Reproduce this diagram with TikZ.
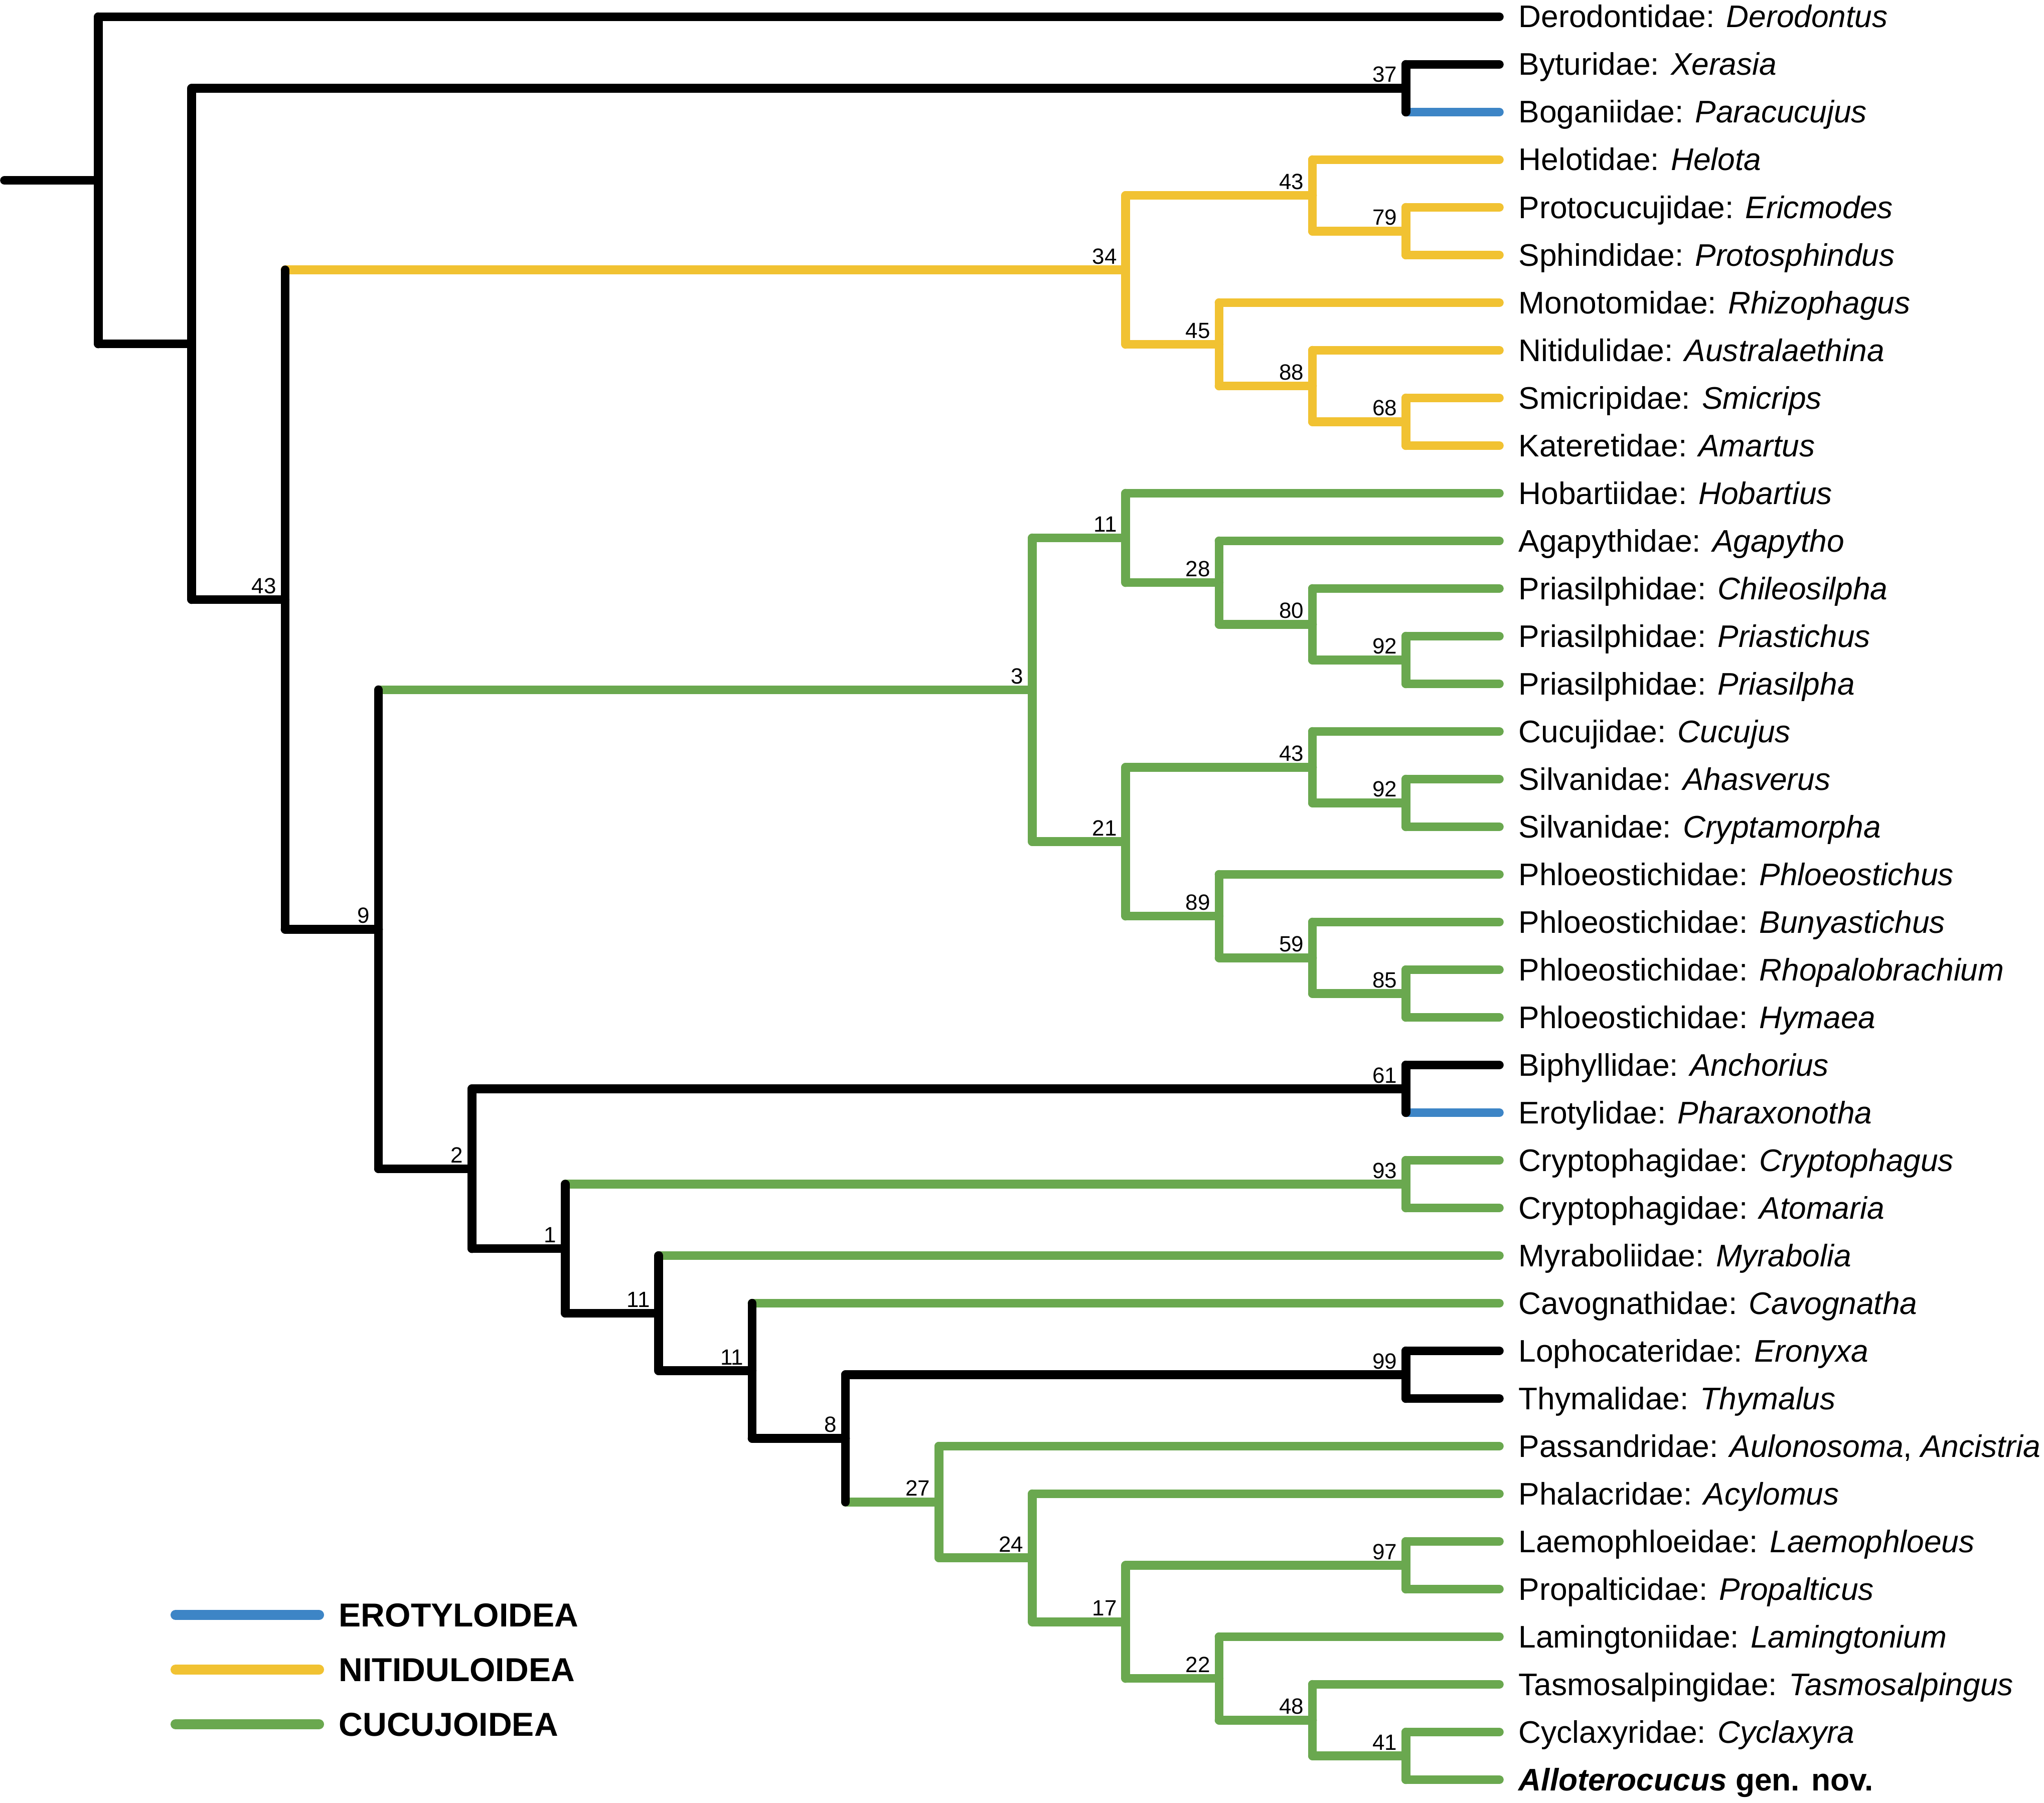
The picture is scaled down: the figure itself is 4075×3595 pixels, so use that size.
\documentclass[tikz,border=0pt]{standalone}
\usepackage{fontspec}
\setmainfont{Liberation Sans}
\definecolor{cyel}{RGB}{241,194,50}
\definecolor{cgrn}{RGB}{106,168,79}
\definecolor{cblu}{RGB}{61,133,198}
\begin{document}
\begin{tikzpicture}[x=0.01cm,y=-0.01cm,
  br/.style={line width=0.175cm, line cap=round},
  blk/.style={br, draw=black},
  yel/.style={br, draw=cyel},
  grn/.style={br, draw=cgrn},
  blu/.style={br, draw=cblu},
  leaflab/.style={anchor=base west, inner sep=0pt, font=\fontsize{17.7pt}{21pt}\selectfont},
  bsv/.style={anchor=base east, inner sep=0pt, font=\fontsize{12.5pt}{15pt}\selectfont},
  leglab/.style={anchor=base west, inner sep=0pt, font=\fontsize{18.8pt}{22pt}\selectfont\bfseries},
  legline/.style={line width=0.2cm, line cap=round},
]
\useasboundingbox (0,0) rectangle (4075,3595);
% leaves
\foreach \i in {0,...,37} {\coordinate (L\i) at (2989,{33.5+95*\i});}
% internal nodes
\coordinate (root) at (9,359.6);
\coordinate (nA) at (196,359.6);
\coordinate (nB) at (382.2,685.75);
\coordinate (n37) at (2802.8,176);
\coordinate (nC) at (568.4,1195.5);
\coordinate (n34) at (2244.2,538.19);
\coordinate (n43y) at (2616.6,389.75);
\coordinate (n79) at (2802.8,461);
\coordinate (n45) at (2430.4,686.625);
\coordinate (n88) at (2616.6,769.75);
\coordinate (n68) at (2802.8,841);
\coordinate (nD) at (754.6,1852.8);
\coordinate (n3) at (2058,1375.375);
\coordinate (n11a) at (2244.2,1072.5625);
\coordinate (n28) at (2430.4,1161.625);
\coordinate (n80) at (2616.6,1244.75);
\coordinate (n92a) at (2802.8,1316);
\coordinate (n21) at (2244.2,1678.1875);
\coordinate (n43g) at (2616.6,1529.75);
\coordinate (n92b) at (2802.8,1601);
\coordinate (n89) at (2430.4,1826.625);
\coordinate (n59) at (2616.6,1909.75);
\coordinate (n85) at (2802.8,1981);
\coordinate (nF) at (940.8,2330.3);
\coordinate (n61) at (2802.8,2171);
\coordinate (nG) at (1127,2489.7);
\coordinate (n93) at (2802.8,2361);
\coordinate (nH) at (1313.2,2618.35);
\coordinate (nI) at (1499.4,2733.2);
\coordinate (nJ) at (1685.6,2867.9);
\coordinate (n99) at (2802.8,2741);
\coordinate (nK) at (1871.8,2994.83);
\coordinate (nL) at (2058,3106.156);
\coordinate (nM) at (2244.2,3233.8125);
\coordinate (n97) at (2802.8,3121);
\coordinate (nN) at (2430.4,3346.625);
\coordinate (nO) at (2616.6,3429.75);
\coordinate (n41) at (2802.8,3501);

% ---------- horizontal branches ----------
\draw[blk] (root) -- (nA);
\draw[blk] (nA |- L0) -- (L0);
\draw[blk] (nA |- nB) -- (nB);
\draw[blk] (nB |- n37) -- (n37);
\draw[blk] (n37 |- L1) -- (L1);
\draw[blu] (n37 |- L2) -- (L2);
\draw[blk] (nB |- nC) -- (nC);
% Nitiduloidea
\draw[yel] (nC |- n34) -- (n34);
\draw[yel] (n34 |- n43y) -- (n43y);
\draw[yel] (n43y |- L3) -- (L3);
\draw[yel] (n43y |- n79) -- (n79);
\draw[yel] (n79 |- L4) -- (L4);
\draw[yel] (n79 |- L5) -- (L5);
\draw[yel] (n34 |- n45) -- (n45);
\draw[yel] (n45 |- L6) -- (L6);
\draw[yel] (n45 |- n88) -- (n88);
\draw[yel] (n88 |- L7) -- (L7);
\draw[yel] (n88 |- n68) -- (n68);
\draw[yel] (n68 |- L8) -- (L8);
\draw[yel] (n68 |- L9) -- (L9);
\draw[blk] (nC |- nD) -- (nD);
% clade 3
\draw[grn] (nD |- n3) -- (n3);
\draw[grn] (n3 |- n11a) -- (n11a);
\draw[grn] (n11a |- L10) -- (L10);
\draw[grn] (n11a |- n28) -- (n28);
\draw[grn] (n28 |- L11) -- (L11);
\draw[grn] (n28 |- n80) -- (n80);
\draw[grn] (n80 |- L12) -- (L12);
\draw[grn] (n80 |- n92a) -- (n92a);
\draw[grn] (n92a |- L13) -- (L13);
\draw[grn] (n92a |- L14) -- (L14);
\draw[grn] (n3 |- n21) -- (n21);
\draw[grn] (n21 |- n43g) -- (n43g);
\draw[grn] (n43g |- L15) -- (L15);
\draw[grn] (n43g |- n92b) -- (n92b);
\draw[grn] (n92b |- L16) -- (L16);
\draw[grn] (n92b |- L17) -- (L17);
\draw[grn] (n21 |- n89) -- (n89);
\draw[grn] (n89 |- L18) -- (L18);
\draw[grn] (n89 |- n59) -- (n59);
\draw[grn] (n59 |- L19) -- (L19);
\draw[grn] (n59 |- n85) -- (n85);
\draw[grn] (n85 |- L20) -- (L20);
\draw[grn] (n85 |- L21) -- (L21);
% lower part
\draw[blk] (nD |- nF) -- (nF);
\draw[blk] (nF |- n61) -- (n61);
\draw[blk] (n61 |- L22) -- (L22);
\draw[blu] (n61 |- L23) -- (L23);
\draw[blk] (nF |- nG) -- (nG);
\draw[grn] (nG |- n93) -- (n93);
\draw[grn] (n93 |- L24) -- (L24);
\draw[grn] (n93 |- L25) -- (L25);
\draw[blk] (nG |- nH) -- (nH);
\draw[grn] (nH |- L26) -- (L26);
\draw[blk] (nH |- nI) -- (nI);
\draw[grn] (nI |- L27) -- (L27);
\draw[blk] (nI |- nJ) -- (nJ);
\draw[blk] (nJ |- n99) -- (n99);
\draw[blk] (n99 |- L28) -- (L28);
\draw[blk] (n99 |- L29) -- (L29);
\draw[grn] (nJ |- nK) -- (nK);
\draw[grn] (nK |- L30) -- (L30);
\draw[grn] (nK |- nL) -- (nL);
\draw[grn] (nL |- L31) -- (L31);
\draw[grn] (nL |- nM) -- (nM);
\draw[grn] (nM |- n97) -- (n97);
\draw[grn] (n97 |- L32) -- (L32);
\draw[grn] (n97 |- L33) -- (L33);
\draw[grn] (nM |- nN) -- (nN);
\draw[grn] (nN |- L34) -- (L34);
\draw[grn] (nN |- nO) -- (nO);
\draw[grn] (nO |- L35) -- (L35);
\draw[grn] (nO |- n41) -- (n41);
\draw[grn] (n41 |- L36) -- (L36);
\draw[grn] (n41 |- L37) -- (L37);

% ---------- vertical bars ----------
\draw[blk] (nA |- L0) -- (nA |- nB);
\draw[blk] (nB |- n37) -- (nB |- nC);
\draw[blk] (n37 |- L1) -- (n37 |- L2);
\draw[blk] (nC |- n34) -- (nC |- nD);
\draw[yel] (n34 |- n43y) -- (n34 |- n45);
\draw[yel] (n43y |- L3) -- (n43y |- n79);
\draw[yel] (n79 |- L4) -- (n79 |- L5);
\draw[yel] (n45 |- L6) -- (n45 |- n88);
\draw[yel] (n88 |- L7) -- (n88 |- n68);
\draw[yel] (n68 |- L8) -- (n68 |- L9);
\draw[blk] (nD |- n3) -- (nD |- nF);
\draw[grn] (n3 |- n11a) -- (n3 |- n21);
\draw[grn] (n11a |- L10) -- (n11a |- n28);
\draw[grn] (n28 |- L11) -- (n28 |- n80);
\draw[grn] (n80 |- L12) -- (n80 |- n92a);
\draw[grn] (n92a |- L13) -- (n92a |- L14);
\draw[grn] (n21 |- n43g) -- (n21 |- n89);
\draw[grn] (n43g |- L15) -- (n43g |- n92b);
\draw[grn] (n92b |- L16) -- (n92b |- L17);
\draw[grn] (n89 |- L18) -- (n89 |- n59);
\draw[grn] (n59 |- L19) -- (n59 |- n85);
\draw[grn] (n85 |- L20) -- (n85 |- L21);
\draw[blk] (nF |- n61) -- (nF |- nG);
\draw[blk] (n61 |- L22) -- (n61 |- L23);
\draw[blk] (nG |- n93) -- (nG |- nH);
\draw[grn] (n93 |- L24) -- (n93 |- L25);
\draw[blk] (nH |- L26) -- (nH |- nI);
\draw[blk] (nI |- L27) -- (nI |- nJ);
\draw[blk] (nJ |- n99) -- (nJ |- nK);
\draw[blk] (n99 |- L28) -- (n99 |- L29);
\draw[grn] (nK |- L30) -- (nK |- nL);
\draw[grn] (nL |- L31) -- (nL |- nM);
\draw[grn] (nM |- n97) -- (nM |- nN);
\draw[grn] (n97 |- L32) -- (n97 |- L33);
\draw[grn] (nN |- L34) -- (nN |- nO);
\draw[grn] (nO |- L35) -- (nO |- n41);
\draw[grn] (n41 |- L36) -- (n41 |- L37);

% ---------- support values ----------
\foreach \n/\v in {n37/37, nC/43, n34/34, n43y/43, n79/79, n45/45, n88/88, n68/68,
  nD/9, n3/3, n11a/11, n28/28, n80/80, n92a/92, n21/21, n43g/43, n92b/92,
  n89/89, n59/59, n85/85, nF/2, n61/61, nG/1, n93/93, nH/11, nI/11, nJ/8,
  n99/99, nK/27, nL/24, nM/17, n97/97, nN/22, nO/48, n41/41}
  {\node[bsv] (s\n) at ([xshift=-0.17cm,yshift=0.12cm]\n) {\v};}

% ---------- tip labels ----------
\foreach \i/\t in {
  0/{Derodontidae: \textit{Derodontus}},
  1/{Byturidae: \textit{Xerasia}},
  2/{Boganiidae: \textit{Paracucujus}},
  3/{Helotidae: \textit{Helota}},
  4/{Protocucujidae: \textit{Ericmodes}},
  5/{Sphindidae: \textit{Protosphindus}},
  6/{Monotomidae: \textit{Rhizophagus}},
  7/{Nitidulidae: \textit{Australaethina}},
  8/{Smicripidae: \textit{Smicrips}},
  9/{Kateretidae: \textit{Amartus}},
  10/{Hobartiidae: \textit{Hobartius}},
  11/{Agapythidae: \textit{Agapytho}},
  12/{Priasilphidae: \textit{Chileosilpha}},
  13/{Priasilphidae: \textit{Priastichus}},
  14/{Priasilphidae: \textit{Priasilpha}},
  15/{Cucujidae: \textit{Cucujus}},
  16/{Silvanidae: \textit{Ahasverus}},
  17/{Silvanidae: \textit{Cryptamorpha}},
  18/{Phloeostichidae: \textit{Phloeostichus}},
  19/{Phloeostichidae: \textit{Bunyastichus}},
  20/{Phloeostichidae: \textit{Rhopalobrachium}},
  21/{Phloeostichidae: \textit{Hymaea}},
  22/{Biphyllidae: \textit{Anchorius}},
  23/{Erotylidae: \textit{Pharaxonotha}},
  24/{Cryptophagidae: \textit{Cryptophagus}},
  25/{Cryptophagidae: \textit{Atomaria}},
  26/{Myraboliidae: \textit{Myrabolia}},
  27/{Cavognathidae: \textit{Cavognatha}},
  28/{Lophocateridae: \textit{Eronyxa}},
  29/{Thymalidae: \textit{Thymalus}},
  30/{Passandridae: \textit{Aulonosoma}, \textit{Ancistria}},
  31/{Phalacridae: \textit{Acylomus}},
  32/{Laemophloeidae: \textit{Laemophloeus}},
  33/{Propalticidae: \textit{Propalticus}},
  34/{Lamingtoniidae: \textit{Lamingtonium}},
  35/{Tasmosalpingidae: \textit{Tasmosalpingus}},
  36/{Cyclaxyridae: \textit{Cyclaxyra}},
  37/{\textbf{\textit{Alloterocucus} gen. nov.}}}
  {\node[leaflab] (t\i) at ([xshift=0.38cm,yshift=-0.215cm]L\i) {\t};}

% ---------- legend ----------
\coordinate (e1) at (350,3220); \coordinate (e2) at (636,3220);
\coordinate (y1) at (350,3329); \coordinate (y2) at (636,3329);
\coordinate (g1) at (350,3438); \coordinate (g2) at (636,3438);
\draw[legline, draw=cblu] (e1) -- (e2);
\draw[legline, draw=cyel] (y1) -- (y2);
\draw[legline, draw=cgrn] (g1) -- (g2);
\node[leglab] (le) at ([xshift=0.39cm,yshift=-0.235cm]e2) {EROTYLOIDEA};
\node[leglab] (ly) at ([xshift=0.39cm,yshift=-0.235cm]y2) {NITIDULOIDEA};
\node[leglab] (lg) at ([xshift=0.39cm,yshift=-0.235cm]g2) {CUCUJOIDEA};
\end{tikzpicture}
\end{document}
